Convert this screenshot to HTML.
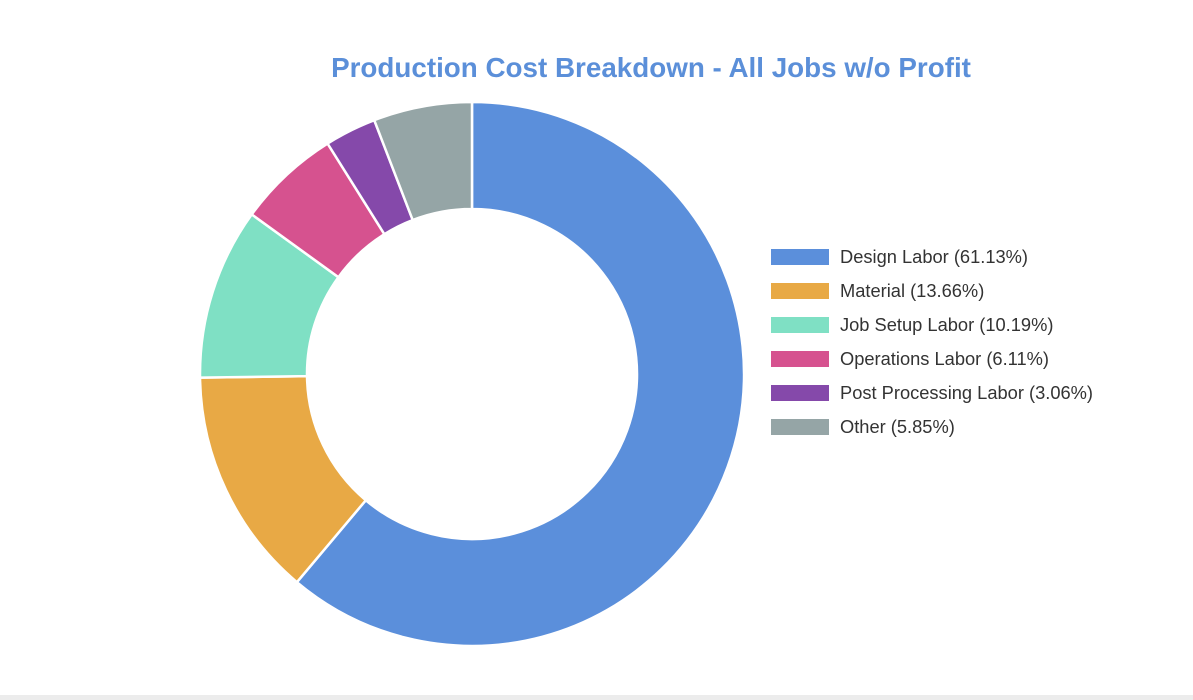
<!DOCTYPE html>
<html><head><meta charset="utf-8"><style>
html,body{margin:0;padding:0;background:#fff;}
body{width:1193px;height:700px;position:relative;overflow:hidden;font-family:"Liberation Sans",sans-serif;}
#bar{position:absolute;left:0;top:695px;width:1193px;height:5px;background:#ececec;}
</style></head><body>
<svg id="chart" width="1193" height="695" style="position:absolute;left:0;top:0">
<text x="651" y="77" text-anchor="middle" font-size="27.8" font-weight="bold" fill="#5b8fd9" font-family="Liberation Sans, sans-serif">Production Cost Breakdown - All Jobs w/o Profit</text>
<g id="slices"></g><g id="legend"></g>
</svg>
<div id="bar"></div>
<script>
const labels=["Design Labor","Material","Job Setup Labor","Operations Labor","Post Processing Labor","Other"];
const values=[61.13,13.66,10.19,6.11,3.06,5.85];
const colors=["#5b8fdb","#e8a945","#7fe0c4","#d6528f","#8549aa","#95a5a6"];
const ns="http://www.w3.org/2000/svg";
const cx=472,cy=374,R=272,r=165;
const total=values.reduce((a,b)=>a+b,0);
const sg=document.getElementById('slices');
let a0=-Math.PI/2;
function pt(rad,a){return [cx+rad*Math.cos(a),cy+rad*Math.sin(a)];}
values.forEach((v,i)=>{
  const a1=a0+v/total*2*Math.PI;
  const large=(a1-a0)>Math.PI?1:0;
  const [x0,y0]=pt(R,a0),[x1,y1]=pt(R,a1),[x2,y2]=pt(r,a1),[x3,y3]=pt(r,a0);
  const p=document.createElementNS(ns,'path');
  p.setAttribute('d',`M${x0},${y0}A${R},${R} 0 ${large} 1 ${x1},${y1}L${x2},${y2}A${r},${r} 0 ${large} 0 ${x3},${y3}Z`);
  p.setAttribute('fill',colors[i]);p.setAttribute('stroke','#fff');p.setAttribute('stroke-width','2.5');
  
  
  sg.appendChild(p);
  a0=a1;
});
const lg=document.getElementById('legend');
labels.forEach((l,i)=>{
  const y=257+i*34;
  const g=document.createElementNS(ns,'g');
  
  
  const rc=document.createElementNS(ns,'rect');
  rc.setAttribute('x',771);rc.setAttribute('y',y-8);rc.setAttribute('width',58);rc.setAttribute('height',16);rc.setAttribute('fill',colors[i]);
  const t=document.createElementNS(ns,'text');
  t.setAttribute('x',840);t.setAttribute('y',y+6);t.setAttribute('font-size','18.3');t.setAttribute('fill','#333');
  t.setAttribute('font-family','Liberation Sans, sans-serif');
  t.textContent=`${l} (${values[i].toFixed(2)}%)`;
  g.appendChild(rc);g.appendChild(t);lg.appendChild(g);
});
</script>
</body></html>
